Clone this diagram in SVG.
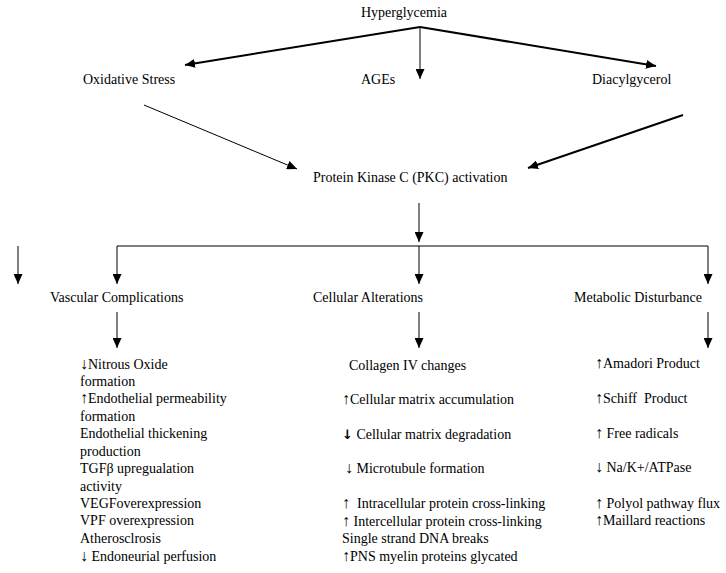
<svg xmlns="http://www.w3.org/2000/svg" width="726" height="573" viewBox="0 0 726 573">
<style>
text{font-family:"Liberation Serif","Times New Roman",serif;font-size:14px;fill:#000}
.thin{stroke:#000;stroke-width:1;fill:none}
.thick{stroke:#000;stroke-width:2;fill:none}
.ar{font-size:16px}
.big{font-family:"DejaVu Sans",sans-serif;font-weight:bold;font-size:13px}
</style>
<defs>
<marker id="ah" markerUnits="userSpaceOnUse" markerWidth="10" markerHeight="9" refX="10" refY="4.5" orient="auto">
<path d="M0,0 L10,4.5 L0,9 z" fill="#000"/>
</marker>
</defs>
<rect width="726" height="573" fill="#fff"/>
<g id="connectors">
<path class="thick" d="M420,27 L185,65" marker-end="url(#ah)"/>
<path class="thin" d="M420,27 L420,79" marker-end="url(#ah)"/>
<path class="thick" d="M420,27 L656,66" marker-end="url(#ah)"/>
<path class="thin" d="M144,105 L297,169" marker-end="url(#ah)" stroke-width="1.5"/>
<path class="thick" d="M683,115 L528,168" marker-end="url(#ah)"/>
<path class="thin" d="M419,203 L419,242" marker-end="url(#ah)"/>
<path class="thin" d="M117,246 L708,246"/>
<path class="thin" d="M117,246 L117,284" marker-end="url(#ah)"/>
<path class="thin" d="M419,246 L419,284" marker-end="url(#ah)"/>
<path class="thin" d="M708,246 L708,284" marker-end="url(#ah)"/>
<path class="thin" d="M18,246 L18,284" marker-end="url(#ah)"/>
<path class="thin" d="M117,312 L117,348" marker-end="url(#ah)"/>
<path class="thin" d="M419,312 L419,348" marker-end="url(#ah)"/>
<path class="thin" d="M708,312 L708,348" marker-end="url(#ah)"/>
</g>
<g id="hyperglycemia"><text x="361" y="17">Hyperglycemia</text></g>
<g id="oxidative-stress"><text x="83" y="84">Oxidative Stress</text></g>
<g id="ages"><text x="361" y="84">AGEs</text></g>
<g id="diacylglycerol"><text x="592" y="84">Diacylgycerol</text></g>
<g id="pkc"><text x="313" y="182">Protein Kinase C (PKC) activation</text></g>
<g id="vascular"><text x="50" y="302">Vascular Complications</text></g>
<g id="cellular"><text x="313" y="302">Cellular Alterations</text></g>
<g id="metabolic"><text x="574" y="302">Metabolic Disturbance</text></g>
<g id="vascular-list">
<text x="80" y="369"><tspan class="ar">↓</tspan>Nitrous Oxide</text>
<text x="80" y="386">formation</text>
<text x="80" y="403"><tspan class="ar">↑</tspan>Endothelial permeability</text>
<text x="80" y="421">formation</text>
<text x="80" y="438">Endothelial thickening</text>
<text x="80" y="456">production</text>
<text x="80" y="473">TGFβ upregualation</text>
<text x="80" y="491">activity</text>
<text x="80" y="508">VEGFoverexpression</text>
<text x="80" y="525">VPF overexpression</text>
<text x="80" y="543">Atherosclrosis</text>
<text x="80" y="561"><tspan class="ar">↓</tspan> Endoneurial perfusion</text>
</g>
<g id="cellular-list">
<text x="349" y="370">Collagen IV changes</text>
<text x="342" y="404"><tspan class="ar">↑</tspan>Cellular matrix accumulation</text>
<text x="342" y="439"><tspan class="big">↓</tspan> Cellular matrix degradation</text>
<text x="345" y="473"><tspan class="ar">↓</tspan> Microtubule formation</text>
<text x="342" y="508" xml:space="preserve"><tspan class="ar">↑</tspan>  Intracellular protein cross-linking</text>
<text x="342" y="526"><tspan class="ar">↑</tspan> Intercellular protein cross-linking</text>
<text x="342" y="543">Single strand DNA breaks</text>
<text x="342" y="561"><tspan class="ar">↑</tspan>PNS myelin proteins glycated</text>
</g>
<g id="metabolic-list">
<text x="595" y="368"><tspan class="ar">↑</tspan>Amadori Product</text>
<text x="595" y="403" xml:space="preserve"><tspan class="ar">↑</tspan>Schiff  Product</text>
<text x="595" y="438"><tspan class="ar">↑</tspan> Free radicals</text>
<text x="595" y="472"><tspan class="ar">↓</tspan> Na/K+/ATPase</text>
<text x="595" y="508"><tspan class="ar">↑</tspan> Polyol pathway flux</text>
<text x="595" y="525"><tspan class="ar">↑</tspan>Maillard reactions</text>
</g>
</svg>
